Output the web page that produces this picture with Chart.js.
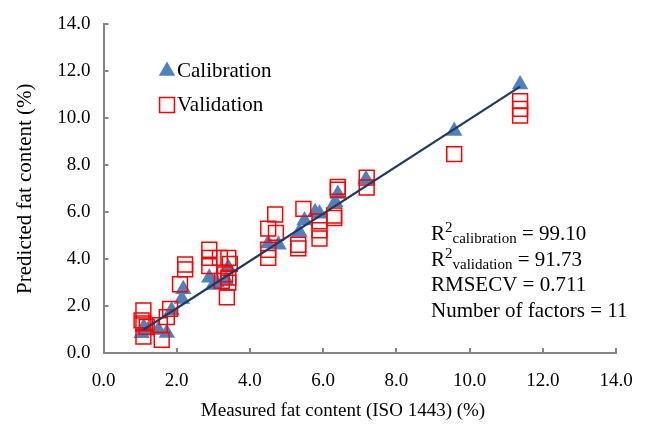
<!DOCTYPE html>
<html><head><meta charset="utf-8">
<script src="https://cdn.jsdelivr.net/npm/chart.js@4/dist/chart.umd.min.js"></script>
<style>html,body{margin:0;padding:0;background:#fff}canvas{display:block}</style>
</head><body>
<canvas id="c" width="650" height="427"></canvas>
<script>
// ---- data ----
const calibrationX = [11.38, 9.58, 7.17, 6.40, 6.33, 5.90, 5.78, 5.49, 5.35, 4.50, 4.78, 3.41, 3.35, 2.89, 3.09, 3.00, 2.18, 2.14, 1.86, 1.73, 1.50, 1.04, 1.10, 1.20];
const calibrationY = [11.44, 9.46, 7.40, 6.77, 6.42, 5.93, 6.00, 5.65, 5.16, 4.67, 4.61, 3.63, 3.10, 3.21, 3.00, 2.90, 2.72, 2.30, 1.81, 0.85, 0.98, 0.84, 1.10, 0.95];
const validationX = [11.38, 11.38, 11.38, 9.58, 7.19, 7.19, 6.40, 6.40, 6.30, 6.30, 5.90, 5.90, 5.90, 5.46, 5.32, 5.32, 4.69, 4.50, 4.71, 4.50, 4.50, 2.89, 2.89, 2.89, 3.18, 3.41, 3.45, 3.41, 3.41, 3.23, 3.37, 3.32, 2.23, 2.23, 2.09, 1.82, 1.09, 1.04, 1.09, 1.18, 1.09, 1.54, 1.59, 1.73];
const validationY = [10.73, 10.12, 10.40, 8.47, 7.47, 7.05, 7.08, 6.96, 5.86, 5.75, 5.61, 5.23, 4.88, 6.14, 4.61, 4.46, 5.90, 5.30, 5.12, 4.40, 4.05, 4.40, 4.05, 3.70, 4.05, 4.05, 3.80, 3.21, 3.00, 3.07, 2.37, 3.35, 3.77, 3.56, 2.93, 1.88, 1.81, 1.39, 1.26, 1.11, 0.70, 1.19, 0.56, 1.53];
const fitLineX = [1.08, 11.38];
const fitLineY = [0.98, 11.35];
const xTickValues = [0, 2, 4, 6, 8, 10, 12, 14];
const yTickValues = [0, 2, 4, 6, 8, 10, 12, 14];
const seriesNames = ['Calibration', 'Validation'];
const xTitle = 'Measured fat content (ISO 1443) (%)';
const yTitle = 'Predicted fat content (%)';
const statLines = [
  ['R', '2', 'calibration', ' = 99.10'],
  ['R', '2', 'validation', ' = 91.73'],
  ['RMSECV = 0.711', '', '', ''],
  ['Number of factors = 11', '', '', '']
];

const FONT = '"Liberation Serif", "Times New Roman", serif';
const BLUE = '#4F81BD';
const RED = '#FF0000';
const AXIS = '#868686';

const toPts = (xs, ys) => xs.map((x, i) => ({x, y: ys[i]}));

const overlay = {
  id: 'overlay',
  afterDraw(chart) {
    const ctx = chart.ctx;
    const xs = chart.scales.x, ys = chart.scales.y;
    const ca = chart.chartArea;
    ctx.save();
    // inward tick marks
    ctx.strokeStyle = AXIS; ctx.lineWidth = 2;
    ctx.beginPath();
    xTickValues.forEach(v => { const p = Math.round(xs.getPixelForValue(v)); if (v === 0) return; ctx.moveTo(p, ca.bottom); ctx.lineTo(p, ca.bottom - 5); });
    yTickValues.forEach(v => { const p = Math.round(ys.getPixelForValue(v)); if (v === 0) return; ctx.moveTo(ca.left, p); ctx.lineTo(ca.left + 5, p); });
    ctx.stroke();
    // axis titles
    ctx.fillStyle = '#000';
    ctx.font = '19px ' + FONT;
    ctx.textAlign = 'center'; ctx.textBaseline = 'middle';
    ctx.fillText(xTitle, 343, 411);
    ctx.save();
    ctx.font = '21px ' + FONT;
    ctx.translate(25, (ca.top + ca.bottom) / 2);
    ctx.rotate(-Math.PI / 2);
    ctx.fillText(yTitle, 0, 0);
    ctx.restore();
    // legend
    const ds = chart.data.datasets;
    const legendItems = [ds[1], ds[0]];
    legendItems.forEach((d, i) => {
      const cy = 70 + i * 34;
      ctx.fillStyle = d.backgroundColor; ctx.strokeStyle = d.borderColor; ctx.lineWidth = d.borderWidth;
      Chart.helpers.drawPoint(ctx, {pointStyle: d.pointStyle, radius: d.pointRadius, borderWidth: d.borderWidth}, 167, cy + 1);
      ctx.fillStyle = '#000';
      ctx.font = '21px ' + FONT;
      ctx.textAlign = 'left'; ctx.textBaseline = 'middle';
      ctx.fillText(d.label, 177, cy + 1);
    });
    // statistics text
    let y0 = 234;
    statLines.forEach((parts, i) => {
      let x = 431;
      const base = y0 + i * 25.5;
      ctx.textBaseline = 'alphabetic'; ctx.textAlign = 'left'; ctx.fillStyle = '#000';
      ctx.font = '21px ' + FONT; ctx.fillText(parts[0], x, base + 6); x += ctx.measureText(parts[0]).width;
      if (parts[1]) {
        ctx.font = '15px ' + FONT; ctx.fillText(parts[1], x, base - 2); x += ctx.measureText(parts[1]).width;
        ctx.font = '15px ' + FONT; ctx.fillText(parts[2], x, base + 9); x += ctx.measureText(parts[2]).width;
        ctx.font = '21px ' + FONT; ctx.fillText(parts[3], x, base + 6);
      }
    });
    ctx.restore();
  }
};

new Chart(document.getElementById('c'), {
  type: 'scatter',
  data: {
    datasets: [
      {label: seriesNames[1], data: toPts(validationX, validationY), pointStyle: 'rect', pointRadius: 10.5, pointHoverRadius: 10.5,
       borderColor: RED, backgroundColor: 'rgba(0,0,0,0)', borderWidth: 1.5, order: 1},
      {label: seriesNames[0], data: toPts(calibrationX, calibrationY), pointStyle: 'triangle', pointRadius: 9.5, pointHoverRadius: 9.5,
       borderColor: BLUE, backgroundColor: BLUE, borderWidth: 0, order: 2},
      {type: 'line', label: 'fit', data: toPts(fitLineX, fitLineY), borderColor: '#1F3A60', borderWidth: 2.2, pointRadius: 0, fill: false, order: 0}
    ]
  },
  options: {
    responsive: false, animation: false, devicePixelRatio: 1,
    layout: {padding: {left: 0, right: 34, top: 19, bottom: 0}},
    plugins: {legend: {display: false}, tooltip: {enabled: false}},
    scales: {
      x: {
        type: 'linear', min: 0, max: 14,
        afterBuildTicks: s => { s.ticks = xTickValues.map(v => ({value: v})); },
        afterFit: s => { s.height = 74; },
        grid: {display: false, drawTicks: false},
        border: {display: true, color: AXIS, width: 2},
        ticks: {padding: 17, color: '#000', font: {family: FONT, size: 19}, maxRotation: 0, callback: v => Number(v).toFixed(1)}
      },
      y: {
        type: 'linear', min: 0, max: 14,
        afterBuildTicks: s => { s.ticks = yTickValues.map(v => ({value: v})); },
        afterFit: s => { s.width = 103.5; },
        grid: {display: false, drawTicks: false},
        border: {display: true, color: AXIS, width: 2},
        ticks: {padding: 13, color: '#000', font: {family: FONT, size: 19}, callback: v => Number(v).toFixed(1)}
      }
    }
  },
  plugins: [overlay]
});
</script>
</body></html>
